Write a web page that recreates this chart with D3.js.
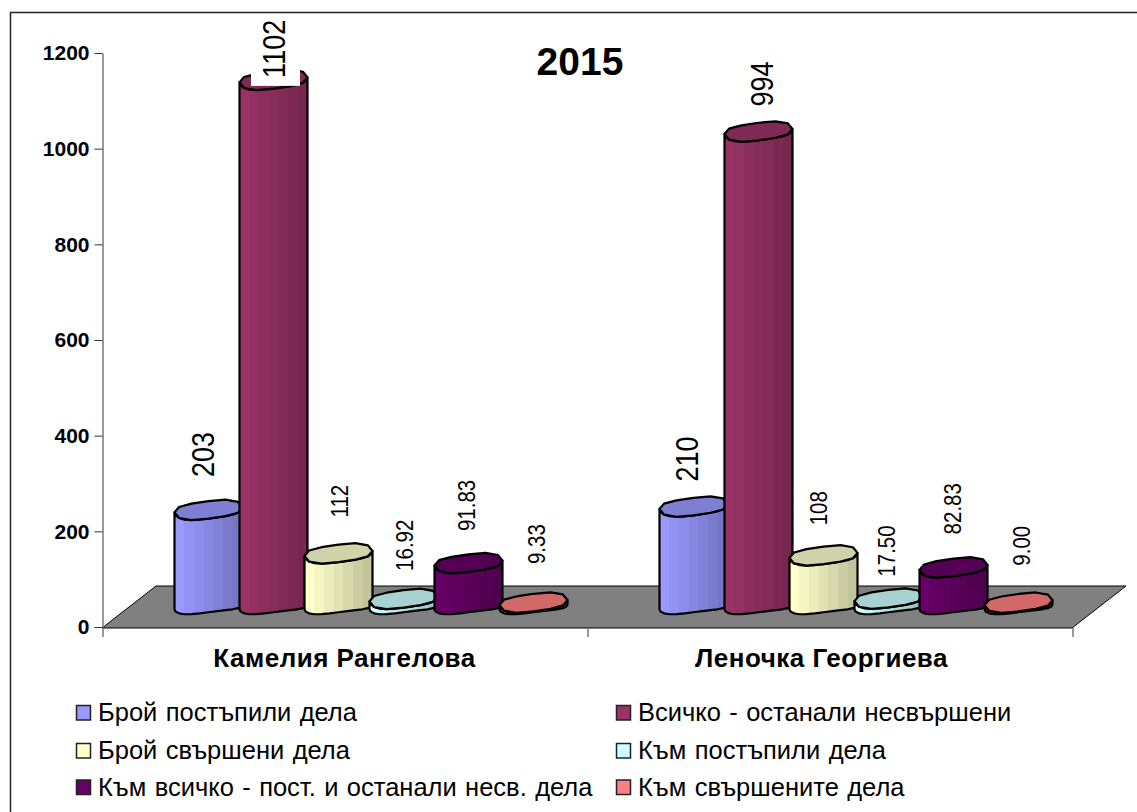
<!DOCTYPE html>
<html>
<head>
<meta charset="utf-8">
<script src="https://cdn.jsdelivr.net/npm/d3@7"></script>
<style>
  html, body { margin: 0; background: #fff; overflow: hidden; }
  text { font-family: "Liberation Sans", Arial, sans-serif; fill: #000; }
</style>
</head>
<body>
<div id="chart"></div>
<script>
const categories = ['Камелия Рангелова', 'Леночка Георгиева'];
const seriesNames = [
  'Брой постъпили дела', 'Всичко - останали несвършени',
  'Брой свършени дела', 'Към постъпили дела',
  'Към всичко - пост. и останали несв. дела', 'Към свършените дела'
];
const seriesColors = ['#9999ff', '#993366', '#ffffcc', '#ccffff', '#660066', '#ff8080'];
const kamelia = [203, 1102, 112, 16.92, 91.83, 9.33];
const lenochka = [210, 994, 108, 17.50, 82.83, 9.00];
const labelsKamelia = ['203', '1102', '112', '16.92', '91.83', '9.33'];
const labelsLenochka = ['210', '994', '108', '17.50', '82.83', '9.00'];
const yTicks = [0, 200, 400, 600, 800, 1000, 1200];

const width = 1137, height = 812;
const plot = { left: 102, right: 1072, top: 53, bottom: 627 };
const depth = { dx: 54, dy: 42 };

// gap between the cylinder top and its label, the original labels were placed by hand
const labelGap = [[33, 2, 36, 28, 32, 38.5], [25, 25, 30, 22, 33, 37]];
const labelShift = [[-6, 0.5, 1.5, 1, -2, 3], [-6.5, 3.5, -5, -2, -0.5, 3.5]];
const labelSize = [27, 27, 20.5, 20.5, 20.5, 20.5];
const labelStretch = 1.15;
const categoryShift = [0, -8];

const svg = d3.select('#chart').append('svg')
  .attr('width', width).attr('height', height);

const y = d3.scaleLinear().domain([0, 1200]).range([plot.bottom, plot.top]);
const x0 = d3.scaleBand().domain(categories).range([plot.left, plot.right]);
const x1 = d3.scaleBand().domain(d3.range(6))
  .range([0, 390]).paddingInner(0).paddingOuter(0);

// chart frame, only the top and left edges fall inside the picture
svg.append('rect')
  .attr('x', 10.5).attr('y', 12.5).attr('width', 1200).attr('height', 900)
  .attr('fill', '#fff').attr('stroke', '#222').attr('stroke-width', 1.5);

// floor
const floor = [
  [plot.left, plot.bottom + 1], [plot.right, plot.bottom + 1],
  [plot.right + depth.dx, plot.bottom - depth.dy + 1], [plot.left + depth.dx, plot.bottom - depth.dy + 1]
];
svg.append('path')
  .attr('d', d3.line()(floor) + 'Z')
  .attr('fill', '#808080').attr('stroke', '#000').attr('stroke-width', 1);

// axes
const yAxis = d3.axisLeft(y).tickValues(yTicks).tickSize(8).tickSizeOuter(0)
  .tickPadding(5).tickFormat(d3.format('d'));
const yG = svg.append('g').attr('transform', `translate(${plot.left + 0.5},0)`).call(yAxis);
yG.select('.domain').attr('stroke', '#777').attr('stroke-width', 1.5);
yG.selectAll('.tick line').attr('stroke', '#333');
yG.selectAll('text').attr('font-size', 21).attr('font-weight', 'bold')
  .style('font-family', '"Liberation Sans", Arial, sans-serif');

const xAxis = d3.axisBottom(d3.scaleLinear().domain([0, 2]).range([plot.left, plot.right]))
  .tickValues([0, 1, 2]).tickSize(9).tickFormat('');
const xG = svg.append('g').attr('transform', `translate(0.5,${plot.bottom + 1})`).call(xAxis);
xG.select('.domain').attr('stroke', 'none');
xG.selectAll('.tick line').attr('stroke', '#777').attr('stroke-width', 1.5);

// gradients for the cylinder sides
const defs = svg.append('defs');
seriesColors.forEach((c, i) => {
  const grad = defs.append('linearGradient').attr('id', 'side' + i);
  const steps = 7;
  d3.range(steps).forEach(s => {
    const col = d3.interpolateRgb(c, d3.rgb(c).darker(0.75))(s / (steps - 1));
    grad.append('stop').attr('offset', s / steps).attr('stop-color', col);
    grad.append('stop').attr('offset', (s + 1) / steps).attr('stop-color', col);
  });
});

const rx = 34, tilt = 3;
// the original outlines are lumpy polygons, the sin(3t) term gives the same bumps
function ringPoint(cx, cy, t, ry) {
  return [cx + rx * Math.cos(t), cy + ry * Math.sin(t) - tilt * Math.cos(t) + 0.9 * Math.sin(3 * t + 0.6)];
}
function ring(cx, cy, from, to, ry) {
  return d3.range(0, 13).map(k => ringPoint(cx, cy, from + (to - from) * k / 12, ry));
}
const line = d3.line();

const groups = [kamelia, lenochka];
const labels = [labelsKamelia, labelsLenochka];
const baseY = plot.bottom - 20;
const capRy = 9.5, baseRy = 6;

categories.forEach((cat, g) => {
  groups[g].forEach((v, i) => {
    const cx = x0(cat) + 74 + x1(i) + x1.bandwidth() / 2;
    const top = y(v) - 20;
    const cyl = svg.append('g');
    // side: left down, around the front of the base, back up
    const side = [ringPoint(cx, top, Math.PI, capRy)]
      .concat(ring(cx, baseY, Math.PI, 0, baseRy))
      .concat([ringPoint(cx, top, 0, capRy)])
      .concat(ring(cx, top, 0, Math.PI, capRy));
    cyl.append('path').attr('d', line(side) + 'Z')
      .attr('fill', `url(#side${i})`)
      .attr('stroke', '#000').attr('stroke-width', 2.2).attr('stroke-linejoin', 'round');
    const cap = ring(cx, top, 0, 2 * Math.PI, capRy);
    cyl.append('path').attr('d', line(cap) + 'Z')
      .attr('fill', d3.rgb(seriesColors[i]).darker(0.55))
      .attr('stroke', '#000').attr('stroke-width', 2.2).attr('stroke-linejoin', 'round');
  });
});

// value labels go over all cylinders
categories.forEach((cat, g) => {
  groups[g].forEach((v, i) => {
    const cx = x0(cat) + 74 + x1(i) + x1.bandwidth() / 2 + labelShift[g][i];
    const yy = y(v) - 20 - labelGap[g][i];
    if (v > 1100) {
      svg.append('rect').attr('x', cx - 23).attr('y', 14).attr('width', 49).attr('height', yy + 8 - 14)
        .attr('fill', '#fff');
    }
    svg.append('text')
      .attr('transform', `translate(${cx + labelSize[i] * 0.358 * labelStretch},${yy}) rotate(-90) scale(1,${labelStretch})`)
      .attr('font-size', labelSize[i])
      .text(labels[g][i]);
  });
});

// title and category names
svg.append('text').attr('x', 580).attr('y', 75).attr('text-anchor', 'middle')
  .attr('font-size', 39).attr('font-weight', 'bold').text('2015');
categories.forEach((cat, g) => {
  svg.append('text')
    .attr('x', x0(cat) + x0.bandwidth() / 2 + categoryShift[g]).attr('y', 667).attr('text-anchor', 'middle')
    .attr('font-size', 26).attr('font-weight', 'bold').attr('letter-spacing', 0.5).text(cat);
});

// legend
const legendX = [76, 616], legendY = [713, 751, 787.5];
seriesNames.forEach((name, i) => {
  const lx = legendX[i % 2], ly = legendY[Math.floor(i / 2)];
  svg.append('rect').attr('x', lx + 0.5).attr('y', ly - 7.5).attr('width', 14).attr('height', 14.5)
    .attr('fill', seriesColors[i]).attr('stroke', '#222').attr('stroke-width', 1.5);
  svg.append('text').attr('x', lx + 22).attr('y', ly + 8).attr('font-size', 25.5)
    .attr('word-spacing', 1.3).text(name);
});
</script>
</body>
</html>
